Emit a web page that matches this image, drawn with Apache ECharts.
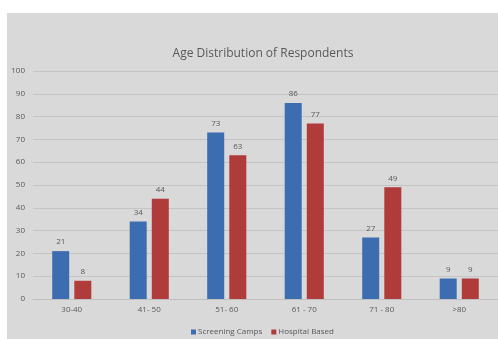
<!DOCTYPE html>
<html><head><meta charset="utf-8">
<script src="https://cdn.jsdelivr.net/npm/echarts@6/dist/echarts.min.js"></script>
<style>html,body{margin:0;padding:0;background:#fff;}#c{width:498px;height:339px;}</style>
</head><body><div id="c"></div>
<script>
const categories = ['30-40', '41- 50', '51- 60', '61 - 70', '71 - 80', '>80'];
const screeningCamps = [21, 34, 73, 86, 27, 9];
const hospitalBased = [8, 44, 63, 77, 49, 9];
const yTicks = {min: 0, max: 100, interval: 10};

const chart = echarts.init(document.getElementById('c'));
const txt = '#595959';
const font = 'Open Sans';
chart.setOption({
  animation: false,
  graphic: [{type: 'rect', z: -10, silent: true, shape: {x: 7, y: 13, width: 491, height: 326}, style: {fill: '#d9d9d9'}}],
  title: {text: 'Age Distribution of Respondents', left: 258, top: 43, textAlign: 'center',
    textStyle: {color: txt, fontSize: 12, fontWeight: 'normal', fontFamily: font}},
  legend: {top: 323, left: 186, itemWidth: 5, itemHeight: 5, itemGap: 9, icon: 'rect',
    textStyle: {color: txt, fontSize: 8, fontFamily: font, padding: [0, 0, 0, -3]}},
  grid: {left: 33, right: 0, top: 71, bottom: 40},
  xAxis: {type: 'category', data: categories,
    axisLine: {lineStyle: {color: '#bfbfbf'}}, axisTick: {show: false},
    axisLabel: {color: txt, fontSize: 8, fontFamily: font, margin: 7}},
  yAxis: {type: 'value', min: yTicks.min, max: yTicks.max, interval: yTicks.interval,
    axisLine: {show: false}, axisTick: {show: false},
    splitLine: {lineStyle: {color: '#c4c4c4'}},
    axisLabel: {color: txt, fontSize: 8, fontFamily: font, margin: 8}},
  series: [
    {name: 'Screening Camps', type: 'bar', data: screeningCamps, barWidth: 17, barGap: '30%',
      itemStyle: {color: '#3c6db0'},
      label: {show: true, position: 'top', distance: 5, color: txt, fontSize: 8, fontFamily: font}},
    {name: 'Hospital Based', type: 'bar', data: hospitalBased, barWidth: 17,
      itemStyle: {color: '#b03b3b'},
      label: {show: true, position: 'top', distance: 5, color: txt, fontSize: 8, fontFamily: font}}
  ]
});
</script></body></html>
